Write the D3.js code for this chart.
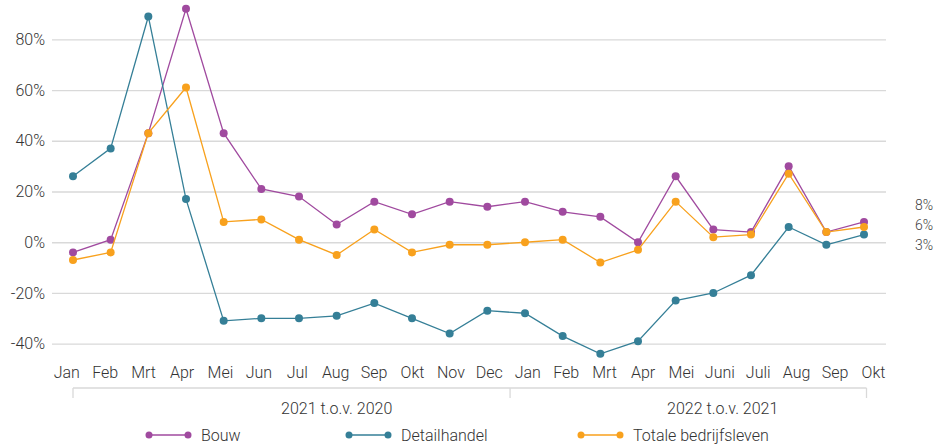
<!DOCTYPE html>
<html>
<head>
<meta charset="utf-8">
<script src="https://cdn.jsdelivr.net/npm/d3@7"></script>
<style>
  body { margin: 0; background: #fff; }
  svg text { font-family: Roboto, sans-serif; font-weight: 300; }
  .axis text { fill: #333; font-size: 16px; }
  .axis .domain { display: none; }
  .y.axis line { stroke: #d9d9d9; stroke-width: 1.3; }
</style>
</head>
<body>
<div id="chart"></div>
<script>
var w = 935;
var h = 448;

var months = ['Jan','Feb','Mrt','Apr','Mei','Jun','Jul','Aug','Sep','Okt','Nov','Dec',
  'Jan','Feb','Mrt','Apr','Mei','Juni','Juli','Aug','Sep','Okt'];
var bouw = [-4, 1, 43, 92, 43, 21, 18, 7, 16, 11, 16, 14,
  16, 12, 10, 0, 26, 5, 4, 30, 4, 8];
var detailhandel = [26, 37, 89, 17, -31, -30, -30, -29, -24, -30, -36, -27,
  -28, -37, -44, -39, -23, -20, -13, 6, -1, 3];
var totaal = [-7, -4, 43, 61, 8, 9, 1, -5, 5, -4, -1, -1,
  0, 1, -8, -3, 16, 2, 3, 27, 4, 6];
var yTicks = [-40, -20, 0, 20, 40, 60, 80];
var groups = [
  {label: '2021 t.o.v. 2020', from: 0, to: 11, at: 7},
  {label: '2022 t.o.v. 2021', from: 12, to: 21, at: 17.25}
];

var series = [
  {name: 'Bouw', values: bouw, color: '#a04a9f'},
  {name: 'Detailhandel', values: detailhandel, color: '#357f97'},
  {name: 'Totale bedrijfsleven', values: totaal, color: '#f8a11d'}
];

var margin = {top: 39.3, right: 49, bottom: 104, left: 52};
var innerW = w - margin.left - margin.right,
  innerH = 343.7 - margin.top;

var x = d3.scaleLinear()
  .domain([0, months.length - 1])
  .range([21, 812]);

// de maandlabels staan iets breder uitgespreid dan de punten
var xLabel = d3.scaleLinear()
  .domain([0, months.length - 1])
  .range([14.3, 821]);

var y = d3.scaleLinear()
  .domain([-40, 80])
  .range([innerH, 0]);

var svg = d3.select('#chart')
  .append('svg')
    .attr('width', w)
    .attr('height', h)
  .append('g')
    .attr('transform', 'translate(' + [margin.left, margin.top] + ')');

var yAxis = d3.axisLeft(y)
  .tickValues(yTicks)
  .tickSize(-innerW)
  .tickPadding(7)
  .tickFormat(function(d){ return d + '%'; });

svg.append('g')
  .attr('class', 'y axis')
  .call(yAxis);

var xAxis = d3.axisBottom(xLabel)
  .tickValues(d3.range(months.length))
  .tickSize(0)
  .tickPadding(22.5)
  .tickFormat(function(i){ return months[i]; });

svg.append('g')
  .attr('class', 'x axis')
  .attr('transform', 'translate(' + [0, innerH] + ')')
  .call(xAxis);

// groeperingsbalk onder de maanden
var bracketY = 388 - margin.top;
var bracket = svg.append('g').attr('class', 'bracket');
var bx0 = x(groups[0].from),
  bx1 = x(groups[groups.length - 1].to) + 2.5;
bracket.append('line')
  .attr('x1', bx0).attr('x2', bx1)
  .attr('y1', bracketY).attr('y2', bracketY);
var edges = [bx0, (xLabel(groups[0].to) + xLabel(groups[1].from)) / 2 + 2, bx1];
bracket.selectAll('line.edge')
  .data(edges)
  .enter().append('line')
    .attr('class', 'edge')
    .attr('x1', function(d){ return d; })
    .attr('x2', function(d){ return d; })
    .attr('y1', bracketY)
    .attr('y2', bracketY + 10);
bracket.selectAll('line')
  .style('stroke', '#d9d9d9')
  .style('stroke-width', 1.3);

svg.selectAll('.group-label')
  .data(groups)
  .enter().append('text')
    .attr('class', 'group-label')
    .attr('x', function(d){ return x(d.at); })
    .attr('y', 408 - margin.top)
    .attr('dy', '0.35em')
    .attr('text-anchor', 'middle')
    .style('font-size', '16px')
    .style('fill', '#333')
    .text(function(d){ return d.label; });

var line = d3.line()
  .x(function(d, i){ return x(i); })
  .y(function(d){ return y(d); });

var s = svg.selectAll('.series')
  .data(series)
  .enter().append('g')
    .attr('class', 'series');

s.append('path')
  .attr('d', function(d){ return line(d.values); })
  .style('fill', 'none')
  .style('stroke', function(d){ return d.color; })
  .style('stroke-width', 1.3);

s.each(function(d) {
  d3.select(this).selectAll('circle')
    .data(d.values)
    .enter().append('circle')
      .attr('cx', function(v, i){ return x(i); })
      .attr('cy', function(v){ return y(v); })
      .attr('r', 4)
      .style('fill', d.color);
});

// eindlabels rechts
var last = series.map(function(d){ return d.values[d.values.length - 1]; });
var midY = y(d3.mean(last)) - 2.6;
svg.selectAll('.end-label')
  .data(last.slice().sort(function(a, b){ return b - a; }))
  .enter().append('text')
    .attr('class', 'end-label')
    .attr('x', 915 - margin.left)
    .attr('y', function(d, i){ return midY + (i - 1) * 20; })
    .attr('dy', '0.35em')
    .style('font-size', '14px')
    .style('fill', '#404040')
    .text(function(d){ return d + '%'; });

// legenda
var legendX = [149, 349, 581];
var legend = svg.selectAll('.legend')
  .data(series)
  .enter().append('g')
    .attr('class', 'legend')
    .attr('transform', function(d, i){ return 'translate(' + [legendX[i] - margin.left, 435 - margin.top] + ')'; });
legend.append('line')
  .attr('x1', 0).attr('x2', 39)
  .style('stroke', function(d){ return d.color; })
  .style('stroke-width', 1.5);
legend.selectAll('circle')
  .data(function(d){ return [d, d]; })
  .enter().append('circle')
    .attr('cx', function(d, i){ return i * 39; })
    .attr('r', 3.5)
    .style('fill', function(d){ return d.color; });
legend.append('text')
  .attr('x', 52)
  .attr('dy', '0.35em')
  .style('font-size', '16px')
  .style('fill', '#333')
  .text(function(d){ return d.name; });
</script>
</body>
</html>
